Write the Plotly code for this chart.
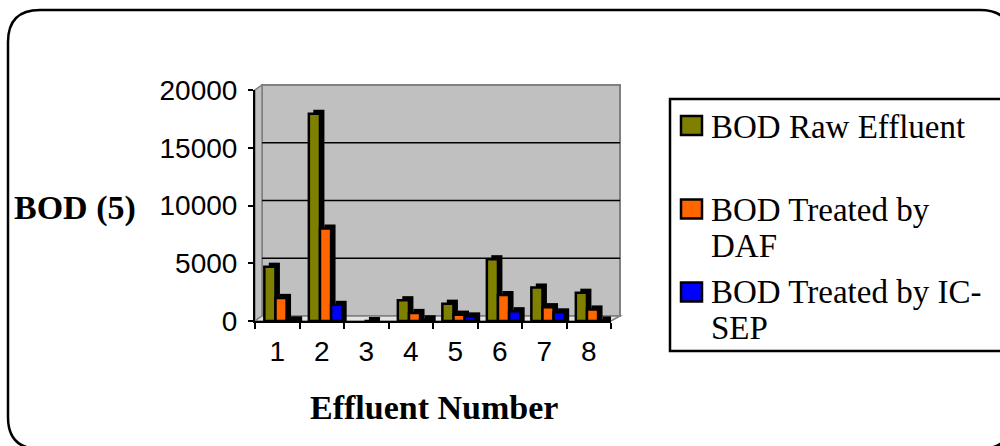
import plotly.graph_objects as go

# Effluent samples and BOD(5) readings
effluents = [1, 2, 3, 4, 5, 6, 7, 8]
bod_raw = [4700, 17950, None, 1800, 1500, 5350, 2900, 2450]
bod_daf = [2000, 8000, 0, 700, 550, 2250, 1200, 1000]
bod_icsep = [60, 1400, None, 150, 400, 850, 750, 50]

series_names = ["BOD Raw Effluent", "BOD Treated by DAF", "BOD Treated by IC-SEP"]
legend_lines = [["BOD Raw Effluent"], ["BOD Treated by", "DAF"], ["BOD Treated by IC-", "SEP"]]
series_colors = ["#808000", "#FF6600", "#0000FF"]
y_ticks = [0, 5000, 10000, 15000, 20000]
y_tick_text = ["0", "5000", "10000", "15000", "20000"]

W, H = 1000, 446
L, R, T, B = 255, 611, 90, 321  # plot area in pixels
PW, PH = R - L, B - T
YMAX = 20000


def px(x):
    return (x - L) / PW


def py(y):
    return (B - y) / PH


# 3-D look of the chart: wall depth and column depth
WALL_DX, WALL_DY = 7, 5
BAR_DX = 0.1        # in category units
BAR_DY = 350        # in BOD units
BAR_W = 0.25
offsets = [-0.29, -0.04, 0.21]

fig = go.Figure()

for vals, color, off, name in zip([bod_raw, bod_daf, bod_icsep], series_colors, offsets, series_names):
    depth = [None if v is None else v + BAR_DY for v in vals]
    fig.add_trace(go.Bar(
        x=effluents, y=depth, offset=off + BAR_DX, width=BAR_W,
        marker=dict(color="black", line=dict(width=0)),
        hoverinfo="skip", showlegend=False,
    ))
    fig.add_trace(go.Bar(
        x=effluents, y=vals, offset=off, width=BAR_W, name=name,
        marker=dict(color=color, line=dict(color="black", width=2.5)),
        showlegend=False,
    ))

shapes = []

# back wall
shapes.append(dict(type="rect", xref="paper", yref="paper", layer="below",
                   x0=px(L + WALL_DX), x1=px(R + 9), y0=py(B - WALL_DY), y1=py(T - WALL_DY),
                   fillcolor="#C0C0C0", line=dict(color="#808080", width=2)))
# left wall
shapes.append(dict(type="path", xref="paper", yref="paper", layer="below",
                   path=f"M {px(L)} {py(B)} L {px(L)} {py(T)} L {px(L + WALL_DX)} {py(T - WALL_DY)} "
                        f"L {px(L + WALL_DX)} {py(B - WALL_DY)} Z",
                   fillcolor="#C0C0C0", line=dict(color="#808080", width=1.5)))
# floor
shapes.append(dict(type="path", xref="paper", yref="paper", layer="below",
                   path=f"M {px(L)} {py(B)} L {px(L + WALL_DX)} {py(B - WALL_DY)} "
                        f"L {px(R + 9)} {py(B - WALL_DY)} L {px(R)} {py(B)} Z",
                   fillcolor="#E4E4E4", line=dict(color="#808080", width=1.5)))
# gridlines on the back wall
for v in y_ticks[1:-1]:
    yy = B - WALL_DY - v * PH / YMAX
    shapes.append(dict(type="line", xref="paper", yref="paper", layer="below",
                       x0=px(L + WALL_DX), x1=px(R + 9), y0=py(yy), y1=py(yy),
                       line=dict(color="black", width=1.5)))

# rounded outer frame
fx0, fy0, fx1, fy1, rr = 8, 10, 1012, 449, 32
frame = (f"M {px(fx0 + rr)} {py(fy0)} L {px(fx1 - rr)} {py(fy0)} "
         f"Q {px(fx1)} {py(fy0)} {px(fx1)} {py(fy0 + rr)} "
         f"L {px(fx1)} {py(fy1 - rr)} Q {px(fx1)} {py(fy1)} {px(fx1 - rr)} {py(fy1)} "
         f"L {px(fx0 + rr)} {py(fy1)} Q {px(fx0)} {py(fy1)} {px(fx0)} {py(fy1 - rr)} "
         f"L {px(fx0)} {py(fy0 + rr)} Q {px(fx0)} {py(fy0)} {px(fx0 + rr)} {py(fy0)} Z")
shapes.append(dict(type="path", xref="paper", yref="paper", path=frame,
                   line=dict(color="black", width=2.5)))

# legend box
shapes.append(dict(type="rect", xref="paper", yref="paper",
                   x0=px(670), x1=px(1010), y0=py(351), y1=py(99),
                   fillcolor="white", line=dict(color="black", width=2.5), layer="below"))

annotations = []
swatch_tops = [116, 199.5, 282.5]
text_rows = [[126.5], [209.5, 245.5], [292, 328]]
for color, top, lines, rows in zip(series_colors, swatch_tops, legend_lines, text_rows):
    shapes.append(dict(type="rect", xref="paper", yref="paper",
                       x0=px(681), x1=px(702), y0=py(top + 19), y1=py(top),
                       fillcolor=color, line=dict(color="black", width=2.5)))
    for txt, yy in zip(lines, rows):
        annotations.append(dict(xref="paper", yref="paper", x=px(709), y=py(yy),
                                xanchor="left", yanchor="middle", showarrow=False, text=txt,
                                font=dict(family="Liberation Serif", size=33, color="black")))

annotations.append(dict(xref="paper", yref="paper", x=px(75), y=py(208),
                        xanchor="center", yanchor="middle", showarrow=False, text="<b>BOD (5)</b>",
                        font=dict(family="Liberation Serif", size=34, color="black")))
annotations.append(dict(xref="paper", yref="paper", x=px(434), y=py(407),
                        xanchor="center", yanchor="middle", showarrow=False, text="<b>Effluent Number</b>",
                        font=dict(family="Liberation Serif", size=34, color="black")))

fig.update_layout(
    width=W, height=H,
    margin=dict(l=L, r=W - R, t=T, b=H - B, pad=0),
    paper_bgcolor="white", plot_bgcolor="rgba(0,0,0,0)",
    barmode="overlay",
    shapes=shapes, annotations=annotations,
    showlegend=False,
    xaxis=dict(
        range=[0.5, 8.5], tickvals=effluents, ticktext=[str(e) for e in effluents],
        ticks="", showgrid=False, zeroline=False,
        showline=True, linecolor="black", linewidth=2,
        tickfont=dict(family="Liberation Sans", size=28, color="black"),
        ticklabelstandoff=4,
        minor=dict(tickvals=[e + 0.5 for e in [0] + effluents], ticks="outside",
                   ticklen=6, tickwidth=1.5, tickcolor="black", showgrid=False),
    ),
    yaxis=dict(
        range=[0, YMAX], tickvals=y_ticks, ticktext=y_tick_text,
        ticks="outside", ticklen=5, tickwidth=1.5,
        tickcolor="black", showgrid=False, zeroline=False,
        showline=True, linecolor="black", linewidth=2,
        tickfont=dict(family="Liberation Sans", size=28, color="black"),
        ticklabelstandoff=5,
    ),
)

fig.write_html("out.html")
